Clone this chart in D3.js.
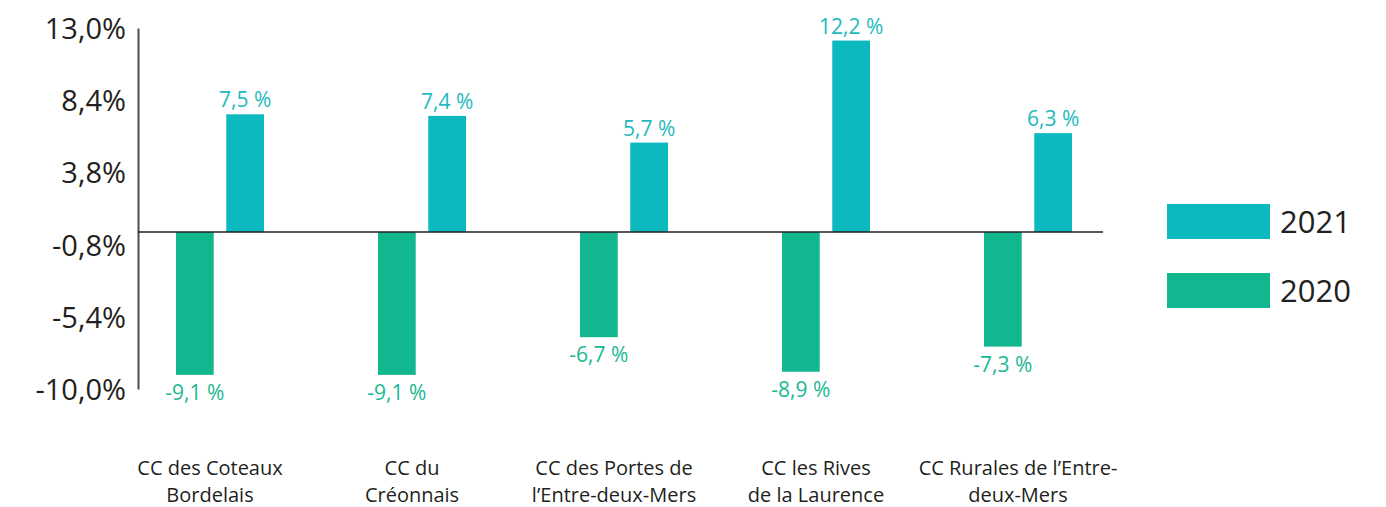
<!DOCTYPE html>
<html><head><meta charset="utf-8">
<script src="https://cdn.jsdelivr.net/npm/d3@7"></script>
<style>body{margin:0;background:#fff}svg{display:block}text{font-family:"Open Sans",sans-serif}</style>
</head><body>
<svg id="c" width="1386" height="507"></svg>
<script>
const categories = [
  ["CC des Coteaux","Bordelais"],
  ["CC du","Créonnais"],
  ["CC des Portes de","l’Entre-deux-Mers"],
  ["CC les Rives","de la Laurence"],
  ["CC Rurales de l’Entre-","deux-Mers"]
];
const series = ["2020","2021"];
const values2020 = [-9.1, -9.1, -6.7, -8.9, -7.3];
const values2021 = [7.5, 7.4, 5.7, 12.2, 6.3];
const yTicks = [13.0, 8.4, 3.8, -0.8, -5.4, -10.0];
const legendOrder = ["2021","2020"];
const colors = {"2020":"#12b68f","2021":"#0bb9bf"};
const labelColors = {"2020":"#1bb894","2021":"#1dbac0"};

const svg = d3.select("#c");
const y = d3.scaleLinear().domain([-10, 13]).range([389, 28]);
const x = d3.scaleBand().domain(d3.range(categories.length)).range([119, 1129]).paddingInner(0).paddingOuter(0);
const xs = d3.scaleBand().domain(series).range([x.bandwidth()/2 - 44, x.bandwidth()/2 + 44]).paddingInner(0.25);
const fmt = v => d3.format(".1f")(v).replace(".", ",").replace("\u2212", "-");

// y axis
const yAxis = d3.axisLeft(y).tickValues(yTicks).tickSize(0).tickPadding(12).tickFormat(d => fmt(d) + "%");
const ga = svg.append("g").attr("transform","translate(138,0)").call(yAxis);
ga.select(".domain").attr("stroke","#4d4d4f").attr("stroke-width",2);
ga.selectAll("text").attr("font-size",29).attr("fill","#231f20").attr("font-family","'Open Sans',sans-serif").attr("dy","0.36em");

// bars
const data = [];
categories.forEach((c,i) => {
  data.push({i, s:"2020", v:values2020[i]});
  data.push({i, s:"2021", v:values2021[i]});
});
svg.append("g").selectAll("rect").data(data).join("rect")
  .attr("x", d => x(d.i) + xs(d.s))
  .attr("width", xs.bandwidth())
  .attr("y", d => y(Math.max(0,d.v)))
  .attr("height", d => Math.abs(y(d.v) - y(0)))
  .attr("fill", d => colors[d.s]);

// zero line
svg.append("line").attr("x1",138).attr("x2",1103).attr("y1",y(0)).attr("y2",y(0))
  .attr("stroke","#231f20").attr("stroke-width",1.5);

// value labels
svg.append("g").selectAll("text").data(data).join("text")
  .attr("x", d => x(d.i) + xs(d.s) + xs.bandwidth()/2)
  .attr("y", d => d.v >= 0 ? y(d.v) - 7 : y(d.v) + 25)
  .attr("text-anchor","middle").attr("font-size",21)
  .attr("fill", d => labelColors[d.s])
  .text(d => fmt(d.v) + " %");

// category labels
const cg = svg.append("g").selectAll("text").data(categories).join("text")
  .attr("text-anchor","middle").attr("font-size",20).attr("fill","#231f20")
  .attr("transform",(d,i) => `translate(${x(i) + x.bandwidth()/2 - 10},0)`);
cg.each(function(d){
  const t = d3.select(this);
  d.forEach((line,k) => t.append("tspan").attr("x",0).attr("y",475 + k*27).text(line));
});

// legend
const lg = svg.append("g").selectAll("g").data(legendOrder).join("g")
  .attr("transform",(d,k) => `translate(1167,${204 + k*69})`);
lg.append("rect").attr("width",103).attr("height",35).attr("fill", d => colors[d]);
lg.append("text").attr("x",113).attr("y",29).attr("font-size",31).attr("fill","#231f20").text(d => d);
</script>
</body></html>
